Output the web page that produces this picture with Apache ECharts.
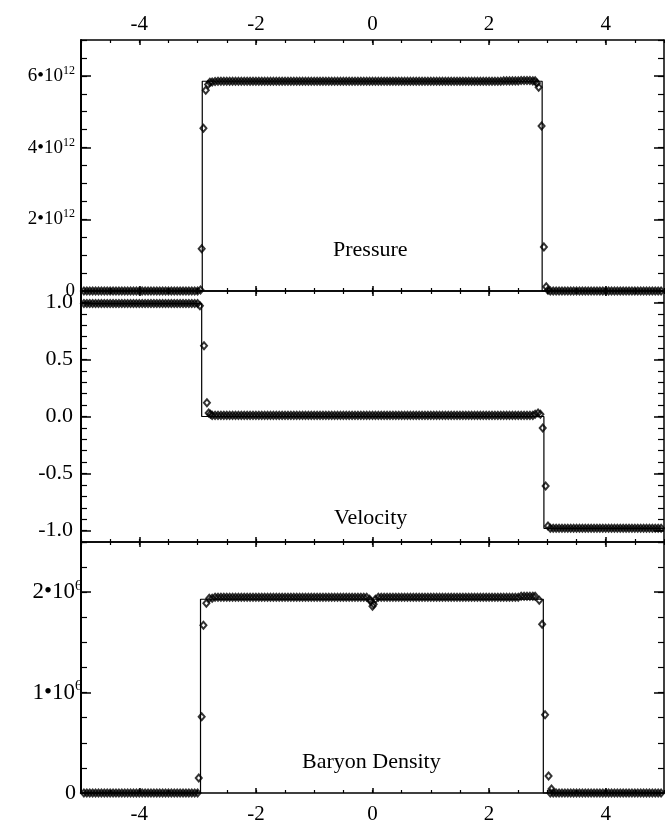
<!DOCTYPE html>
<html>
<head>
<meta charset="utf-8">
<script src="https://cdn.jsdelivr.net/npm/echarts@6/dist/echarts.min.js"></script>
<style>
  html, body { margin: 0; padding: 0; background: #fff; }
  #chart { width: 665px; height: 822px; }
</style>
</head>
<body>
<div id="chart"></div>
<script>
// Cell centres of the numerical grid, shared by all three quantities
// (the cells inside the two shock fronts are listed separately below).
const xCells = [
  -4.95,-4.9,-4.85,-4.8,-4.75,-4.7,-4.65,-4.6,-4.55,-4.5,
  -4.45,-4.4,-4.35,-4.3,-4.25,-4.2,-4.15,-4.1,-4.05,-4,
  -3.95,-3.9,-3.85,-3.8,-3.75,-3.7,-3.65,-3.6,-3.55,-3.5,
  -3.45,-3.4,-3.35,-3.3,-3.25,-3.2,-3.15,-3.1,-3.05,-3,
  -2.75,-2.7,-2.65,-2.6,-2.55,-2.5,-2.45,-2.4,-2.35,-2.3,
  -2.25,-2.2,-2.15,-2.1,-2.05,-2,-1.95,-1.9,-1.85,-1.8,
  -1.75,-1.7,-1.65,-1.6,-1.55,-1.5,-1.45,-1.4,-1.35,-1.3,
  -1.25,-1.2,-1.15,-1.1,-1.05,-1,-0.95,-0.9,-0.85,-0.8,
  -0.75,-0.7,-0.65,-0.6,-0.55,-0.5,-0.45,-0.4,-0.35,-0.3,
  -0.25,-0.2,-0.15,-0.1,-0.05,0,0.05,0.1,0.15,0.2,
  0.25,0.3,0.35,0.4,0.45,0.5,0.55,0.6,0.65,0.7,
  0.75,0.8,0.85,0.9,0.95,1,1.05,1.1,1.15,1.2,
  1.25,1.3,1.35,1.4,1.45,1.5,1.55,1.6,1.65,1.7,
  1.75,1.8,1.85,1.9,1.95,2,2.05,2.1,2.15,2.2,
  2.25,2.3,2.35,2.4,2.45,2.5,2.55,2.6,2.65,2.7,
  2.75,
  3.05,3.1,3.15,3.2,3.25,3.3,3.35,3.4,3.45,3.5,
  3.55,3.6,3.65,3.7,3.75,3.8,3.85,3.9,3.95,4,
  4.05,4.1,4.15,4.2,4.25,4.3,4.35,4.4,4.45,4.5,
  4.55,4.6,4.65,4.7,4.75,4.8,4.85,4.9,4.95
];

// Numerical pressure at xCells, in units of 10^12
const pressureCells = [
  0,0,0,0,0,0,0,0,0,0,
  0,0,0,0,0,0,0,0,0,0,
  0,0,0,0,0,0,0,0,0,0,
  0,0,0,0,0,0,0,0,0,0,
  5.83,5.84,5.85,5.85,5.85,5.85,5.85,5.85,5.85,5.85,
  5.85,5.85,5.85,5.85,5.85,5.85,5.85,5.85,5.85,5.85,
  5.85,5.85,5.85,5.85,5.85,5.85,5.85,5.85,5.85,5.85,
  5.85,5.85,5.85,5.85,5.85,5.85,5.85,5.85,5.85,5.85,
  5.85,5.85,5.85,5.85,5.85,5.85,5.85,5.85,5.85,5.85,
  5.85,5.85,5.85,5.85,5.85,5.85,5.85,5.85,5.85,5.85,
  5.85,5.85,5.85,5.85,5.85,5.85,5.85,5.85,5.85,5.85,
  5.85,5.85,5.85,5.85,5.85,5.85,5.85,5.85,5.85,5.85,
  5.85,5.85,5.85,5.85,5.85,5.85,5.85,5.85,5.85,5.85,
  5.85,5.85,5.85,5.85,5.85,5.85,5.85,5.85,5.85,5.85,
  5.86,5.86,5.86,5.86,5.86,5.86,5.87,5.87,5.87,5.87,
  5.86,
  0,0,0,0,0,0,0,0,0,0,
  0,0,0,0,0,0,0,0,0,0,
  0,0,0,0,0,0,0,0,0,0,
  0,0,0,0,0,0,0,0,0
];

// Numerical velocity at xCells
const velocityCells = [
  0.99,0.99,0.99,0.99,0.99,0.99,0.99,0.99,0.99,0.99,
  0.99,0.99,0.99,0.99,0.99,0.99,0.99,0.99,0.99,0.99,
  0.99,0.99,0.99,0.99,0.99,0.99,0.99,0.99,0.99,0.99,
  0.99,0.99,0.99,0.99,0.99,0.99,0.99,0.99,0.99,0.99,
  0.01,0.01,0.01,0.01,0.01,0.01,0.01,0.01,0.01,0.01,
  0.01,0.01,0.01,0.01,0.01,0.01,0.01,0.01,0.01,0.01,
  0.01,0.01,0.01,0.01,0.01,0.01,0.01,0.01,0.01,0.01,
  0.01,0.01,0.01,0.01,0.01,0.01,0.01,0.01,0.01,0.01,
  0.01,0.01,0.01,0.01,0.01,0.01,0.01,0.01,0.01,0.01,
  0.01,0.01,0.01,0.01,0.01,0.01,0.01,0.01,0.01,0.01,
  0.01,0.01,0.01,0.01,0.01,0.01,0.01,0.01,0.01,0.01,
  0.01,0.01,0.01,0.01,0.01,0.01,0.01,0.01,0.01,0.01,
  0.01,0.01,0.01,0.01,0.01,0.01,0.01,0.01,0.01,0.01,
  0.01,0.01,0.01,0.01,0.01,0.01,0.01,0.01,0.01,0.01,
  0.01,0.01,0.01,0.01,0.01,0.01,0.01,0.01,0.01,0.01,
  0.01,
  -0.98,-0.98,-0.98,-0.98,-0.98,-0.98,-0.98,-0.98,-0.98,-0.98,
  -0.98,-0.98,-0.98,-0.98,-0.98,-0.98,-0.98,-0.98,-0.98,-0.98,
  -0.98,-0.98,-0.98,-0.98,-0.98,-0.98,-0.98,-0.98,-0.98,-0.98,
  -0.98,-0.98,-0.98,-0.98,-0.98,-0.98,-0.98,-0.98,-0.98
];

// Numerical baryon density at xCells, in units of 10^6
const densityCells = [
  0,0,0,0,0,0,0,0,0,0,
  0,0,0,0,0,0,0,0,0,0,
  0,0,0,0,0,0,0,0,0,0,
  0,0,0,0,0,0,0,0,0,0,
  1.94,1.95,1.95,1.95,1.95,1.95,1.95,1.95,1.95,1.95,
  1.95,1.95,1.95,1.95,1.95,1.95,1.95,1.95,1.95,1.95,
  1.95,1.95,1.95,1.95,1.95,1.95,1.95,1.95,1.95,1.95,
  1.95,1.95,1.95,1.95,1.95,1.95,1.95,1.95,1.95,1.95,
  1.95,1.95,1.95,1.95,1.95,1.95,1.95,1.95,1.95,1.95,
  1.95,1.95,1.95,1.95,1.93,1.86,1.93,1.95,1.95,1.95,
  1.95,1.95,1.95,1.95,1.95,1.95,1.95,1.95,1.95,1.95,
  1.95,1.95,1.95,1.95,1.95,1.95,1.95,1.95,1.95,1.95,
  1.95,1.95,1.95,1.95,1.95,1.95,1.95,1.95,1.95,1.95,
  1.95,1.95,1.95,1.95,1.95,1.95,1.95,1.95,1.95,1.95,
  1.95,1.95,1.95,1.95,1.95,1.95,1.96,1.96,1.96,1.96,
  1.96,
  0,0,0,0,0,0,0,0,0,0,
  0,0,0,0,0,0,0,0,0,0,
  0,0,0,0,0,0,0,0,0,0,
  0,0,0,0,0,0,0,0,0
];

// Numerical points inside the shock fronts (and the central density dip): [x, value]
const pressureFront = [
  [-2.95,0.03],[-2.93,1.18],[-2.9,4.54],[-2.86,5.6],[-2.82,5.76],[-2.79,5.82],
  [2.79,5.86],[2.82,5.8],[2.85,5.68],[2.9,4.6],[2.94,1.23],[2.98,0.12],[3.01,0.02]
];
const velocityFront = [
  [-2.96,0.97],[-2.89,0.62],[-2.84,0.12],[-2.81,0.03],[-2.78,0.02],
  [2.79,0.02],[2.84,0.03],[2.88,0.02],[2.92,-0.1],[2.97,-0.61],[3.01,-0.96]
];
const densityFront = [
  [-2.98,0.15],[-2.93,0.76],[-2.9,1.67],[-2.85,1.89],[-2.8,1.94],
  [-0.03,1.91],[0.02,1.88],
  [2.79,1.96],[2.86,1.92],[2.91,1.68],[2.96,0.78],[3.02,0.17],[3.07,0.04]
];

// Analytic solution (piecewise constant, drawn as a thin line)
const pressureExactX = [-5, -2.92, -2.92, 2.91, 2.91, 5];
const pressureExactY = [0, 0, 5.85, 5.85, 0, 0];
const velocityExactX = [-5, -2.93, -2.93, 2.94, 2.94, 5];
const velocityExactY = [0.99, 0.99, 0, 0, -0.98, -0.98];
const densityExactX = [-5, -2.95, -2.95, 2.93, 2.93, 5];
const densityExactY = [0, 0, 1.93, 1.93, 0, 0];

// Tick labels
const xTickLabels = [-4, -2, 0, 2, 4];
const pressureTickLabels = [0, 2, 4, 6];   // x 10^12
const velocityTickLabels = [-1, -0.5, 0, 0.5, 1];
const densityTickLabels = [0, 1, 2];       // x 10^6
const panelTitles = ['Pressure', 'Velocity', 'Baryon Density'];

const FONT = '"Liberation Serif", "Times New Roman", serif';
const INK = '#000';

function zip(xs, ys) { return xs.map((x, i) => [x, ys[i]]); }

const panels = [
  { title: panelTitles[0], min: 0, max: 7, minorStep: 0.5, ticks: pressureTickLabels,
    cells: pressureCells, front: pressureFront, exX: pressureExactX, exY: pressureExactY,
    labelMargin: 6,
    fmt: v => v === 0 ? '{m|0}' : '{b|' + v + '•10}{s|12}',
    rich: { m: { fontSize: 19 }, b: { fontSize: 19, lineHeight: 22 }, s: { fontSize: 12, lineHeight: 11, verticalAlign: 'top' } },
    titlePos: [333, 239] },
  { title: panelTitles[1], min: -1.1, max: 1.1, minorStep: 0.1, ticks: velocityTickLabels,
    cells: velocityCells, front: velocityFront, exX: velocityExactX, exY: velocityExactY,
    labelMargin: 8,
    fmt: v => '{m|' + v.toFixed(1) + '}',
    rich: { m: { fontSize: 22 } },
    titlePos: [334, 507] },
  { title: panelTitles[2], min: 0, max: 2.5, minorStep: 0.25, ticks: densityTickLabels,
    cells: densityCells, front: densityFront, exX: densityExactX, exY: densityExactY,
    labelMargin: -1,
    fmt: v => v === 0 ? '{z|0}' : '{b|' + v + '•10}{s|6}',
    rich: { z: { fontSize: 22, padding: [0, 6, 0, 0] }, b: { fontSize: 23, lineHeight: 26 }, s: { fontSize: 14, lineHeight: 12, verticalAlign: 'top' } },
    titlePos: [302, 751] }
];

const gridTops = [40, 291, 542];
const grid = gridTops.map(t => ({ left: 81, right: 1, top: t, height: 251, outerBoundsMode: 'none' }));

const xAxis = [];
const yAxis = [];
const frameLine = { show: true, onZero: false, lineStyle: { color: INK, width: 1.5 } };
const hiddenLine = { show: false, onZero: false };

panels.forEach((p, g) => {
  // x axes: top major, top minor, bottom major, bottom minor
  ['top', 'bottom'].forEach(pos => {
    const labelled = (g === 0 && pos === 'top') || (g === 2 && pos === 'bottom');
    xAxis.push({
      type: 'value', gridIndex: g, position: pos, min: -5, max: 5,
      axisLine: frameLine,
      axisTick: { show: true, inside: true, length: 5, customValues: xTickLabels,
                  lineStyle: { color: INK, width: 1.5 } },
      axisLabel: { show: labelled, customValues: xTickLabels, margin: pos === 'top' ? 5 : 11,
                   color: INK, fontFamily: FONT, fontSize: 21 },
      splitLine: { show: false }
    });
    xAxis.push({
      type: 'value', gridIndex: g, position: pos, min: -5, max: 5, interval: 0.5,
      axisLine: hiddenLine,
      axisTick: { show: true, inside: true, length: 3, lineStyle: { color: INK, width: 1.2 } },
      axisLabel: { show: false },
      splitLine: { show: false }
    });
  });
  // y axes: left major, left minor, right major, right minor
  ['left', 'right'].forEach(pos => {
    const labelled = pos === 'left';
    const rich = {};
    Object.keys(p.rich).forEach(k => { rich[k] = Object.assign({ color: INK, fontFamily: FONT }, p.rich[k]); });
    yAxis.push({
      type: 'value', gridIndex: g, position: pos, min: p.min, max: p.max, offset: 0,
      axisLine: { show: true, onZero: false, lineStyle: { color: INK, width: pos === 'left' ? 2 : 1.5 } },
      axisTick: { show: true, inside: true, length: 10, customValues: p.ticks,
                  lineStyle: { color: INK, width: 1.5 } },
      axisLabel: { show: labelled, customValues: p.ticks, margin: p.labelMargin,
                   formatter: p.fmt, rich: rich },
      splitLine: { show: false }
    });
    yAxis.push({
      type: 'value', gridIndex: g, position: pos, min: p.min, max: p.max, interval: p.minorStep, offset: 0,
      axisLine: hiddenLine,
      axisTick: { show: true, inside: true, length: 6, lineStyle: { color: INK, width: 1.2 } },
      axisLabel: { show: false },
      splitLine: { show: false }
    });
  });
});

const series = [];
panels.forEach((p, g) => {
  const xi = 4 * g + 2;   // bottom major x axis of this panel
  const yi = 4 * g;       // left major y axis of this panel
  series.push({
    type: 'line', xAxisIndex: xi, yAxisIndex: yi,
    data: zip(p.exX, p.exY),
    symbol: 'none', silent: true, animation: false, clip: false,
    lineStyle: { color: INK, width: 1.2 }, z: 2
  });
  series.push({
    type: 'scatter', xAxisIndex: xi, yAxisIndex: yi,
    data: zip(xCells, p.cells).concat(p.front),
    symbol: 'diamond', symbolSize: [6, 7], animation: false, clip: false,
    itemStyle: { color: 'rgba(255,255,255,0)', borderColor: INK, borderWidth: 2 }, z: 3
  });
});

const graphic = panels.map(p => ({
  type: 'text', left: p.titlePos[0], top: p.titlePos[1],
  style: { text: p.title, font: '22px ' + FONT, fill: INK }
}));

const chart = echarts.init(document.getElementById('chart'), null, { renderer: 'canvas' });
chart.setOption({
  backgroundColor: '#fff',
  animation: false,
  grid: grid,
  xAxis: xAxis,
  yAxis: yAxis,
  series: series,
  graphic: graphic
});
</script>
</body>
</html>
